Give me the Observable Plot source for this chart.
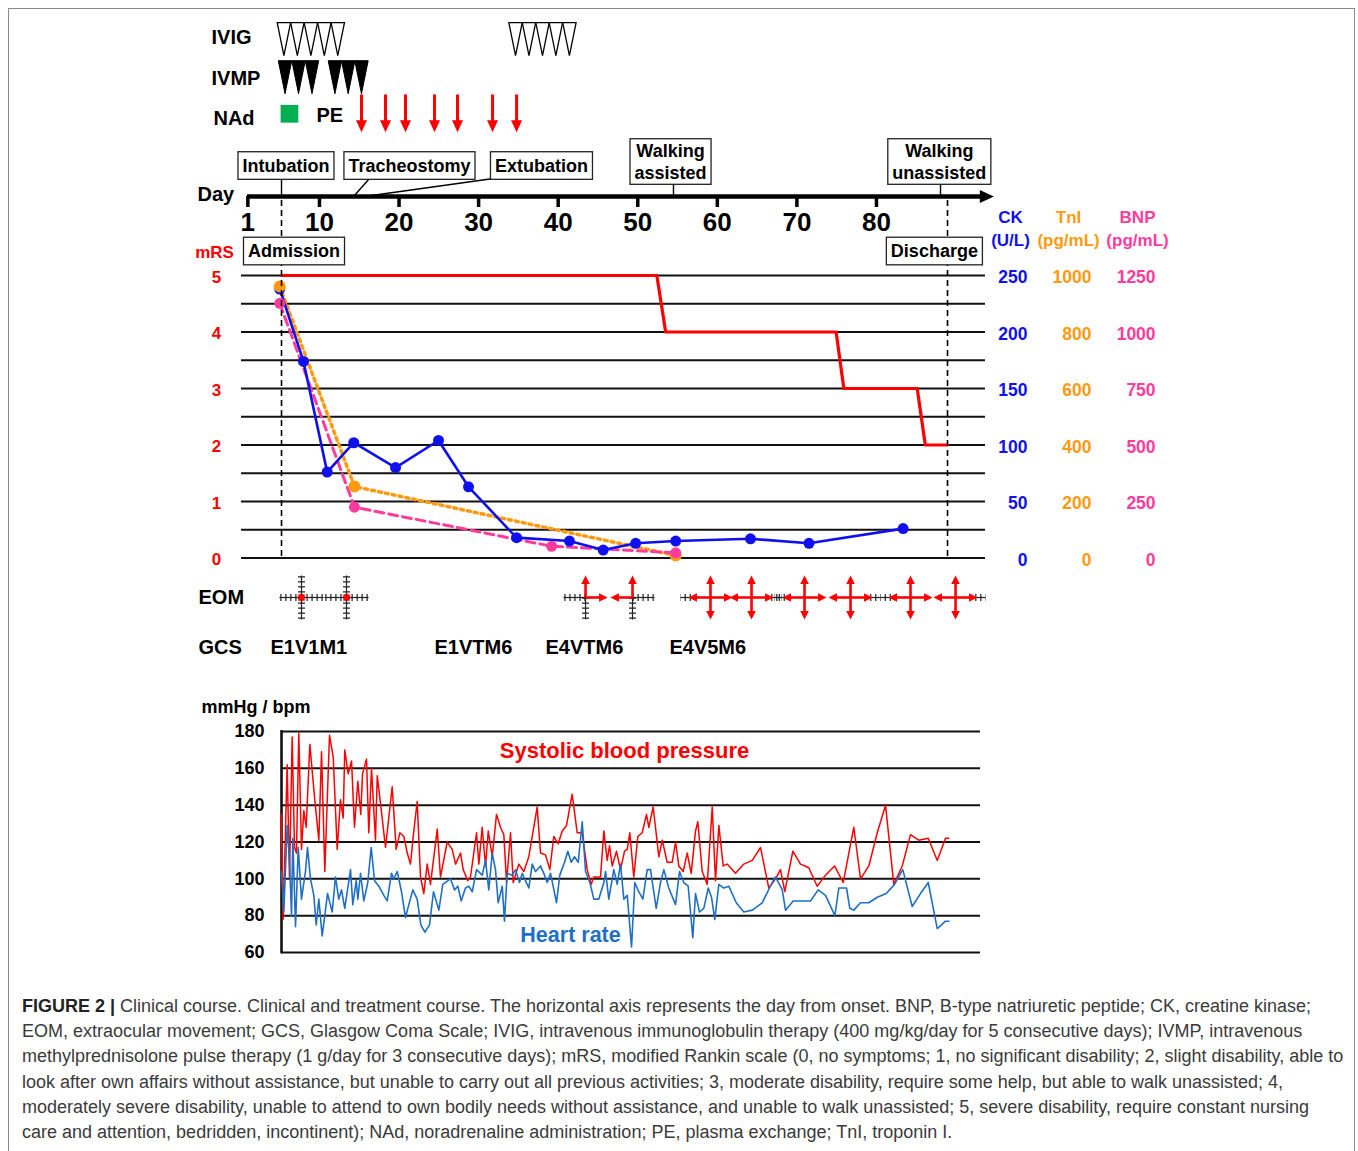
<!DOCTYPE html>
<html><head><meta charset="utf-8">
<script src="https://cdn.jsdelivr.net/npm/d3@7"></script>
<script src="https://cdn.jsdelivr.net/npm/@observablehq/plot@0.6"></script>
<style>
body{margin:0;background:#fff;}
#fig{position:relative;width:1358px;height:1151px;overflow:hidden;font-family:"Liberation Sans",Arial,sans-serif;}
#frame{position:absolute;left:8px;top:8px;width:1347px;height:1170px;border:1.5px solid #8a8a8a;box-sizing:border-box;}
#fig svg{position:absolute;left:0;top:0;}
#caption{position:absolute;left:22px;top:994px;font-size:18px;line-height:25.2px;color:#3a3a3a;white-space:nowrap;}
#caption b{color:#222;}
</style></head><body>
<div id="fig"><div id="frame"></div>
<div id="caption"><b>FIGURE 2 |</b> Clinical course. Clinical and treatment course. The horizontal axis represents the day from onset. BNP, B-type natriuretic peptide; CK, creatine kinase;<br>EOM, extraocular movement; GCS, Glasgow Coma Scale; IVIG, intravenous immunoglobulin therapy (400 mg/kg/day for 5 consecutive days); IVMP, intravenous<br>methylprednisolone pulse therapy (1 g/day for 3 consecutive days); mRS, modified Rankin scale (0, no symptoms; 1, no significant disability; 2, slight disability, able to<br>look after own affairs without assistance, but unable to carry out all previous activities; 3, moderate disability, require some help, but able to walk unassisted; 4,<br>moderately severe disability, unable to attend to own bodily needs without assistance, and unable to walk unassisted; 5, severe disability, require constant nursing<br>care and attention, bedridden, incontinent); NAd, noradrenaline administration; PE, plasma exchange; TnI, troponin I.</div>
</div>
<script>
// ---------------- DATA ----------------
const dayTicks = [1, 10, 20, 30, 40, 50, 60, 70, 80];
const ivigDays = [5.53, 7.22, 8.92, 10.61, 12.30, 34.64, 36.33, 38.03, 39.71, 41.41];
const ivmpDays = [5.67, 7.37, 9.06, 11.94, 13.61, 15.28];
const nadDays = [6.23];
const peDays = [15.28, 18.30, 20.81, 24.46, 27.35, 31.75, 34.77];
const admissionDay = 5.23;
const dischargeDay = 88.93;

const eventLabels = ["Intubation", "Tracheostomy", "Extubation", "Walking\nassisted", "Walking\nunassisted", "Admission", "Discharge"];
const eventDays = [5.23, 14.28, 15.66, 54.49, 88.05, null, null];

const mrsDays = [5.23, 52.40, 53.51, 74.93, 75.90, 85.12, 86.14, 88.93];
const mrsValues = [5, 5, 4, 4, 3, 3, 2, 2];
const ckDays = [5.01, 7.99, 10.97, 14.31, 19.56, 24.96, 28.73, 34.76, 41.42, 45.66, 49.74, 54.77, 64.17, 71.52, 83.35];
const ckValues = [238, 174, 76, 102, 80, 104, 63, 18, 15, 7, 13, 15, 17, 13, 26];
const tniDays = [5.01, 14.40, 54.77];
const tniValues = [961, 253, 9];
const bnpDays = [5.01, 14.40, 39.18, 54.77];
const bnpValues = [1127, 225, 52, 23];

const mrsTicks = [0, 1, 2, 3, 4, 5];
const ckTicks = [0, 50, 100, 150, 200, 250];
const tniTicks = [0, 200, 400, 600, 800, 1000];
const bnpTicks = [0, 250, 500, 750, 1000, 1250];

const eomDays = [7.74, 13.40, 43.44, 49.34, 59.14, 64.30, 70.96, 76.74, 84.28, 89.94];
const eomStates = ["fixed", "fixed", "upRight", "upLeft", "full", "full", "full", "full", "full", "full"];

const gcsLabels = ["E1V1M1", "E1VTM6", "E4VTM6", "E4V5M6"];
const gcsDays = [3.85, 24.46, 38.40, 53.98];

const bpTicks = [60, 80, 100, 120, 140, 160, 180];
const sbpDays = [5.19,5.44,5.94,6.23,6.57,6.86,7.11,7.40,7.74,8.03,8.33,8.79,9.41,9.92,10.26,10.67,11.26,11.73,12.23,12.64,12.98,13.18,13.61,14.03,14.40,14.82,15.19,15.41,15.91,16.20,16.54,17.04,17.26,17.67,18.30,19.14,19.64,20.10,20.60,21.03,21.44,21.78,22.28,22.70,23.11,23.54,23.95,24.80,25.21,26.05,26.68,27.10,27.73,28.06,28.64,28.98,29.74,30.03,30.45,30.87,31.21,31.71,32.25,32.75,33.17,33.51,34.01,34.35,35.05,35.68,36.31,36.74,37.36,37.78,38.41,38.95,39.45,40.00,40.51,41.05,41.76,42.39,43.02,43.65,44.15,44.48,45.32,45.74,46.16,46.45,46.79,47.33,47.83,48.34,48.68,49.00,49.50,50.01,50.56,51.10,51.39,51.94,52.65,53.08,53.70,54.33,54.75,55.16,55.71,56.22,56.72,57.26,57.55,58.10,58.73,59.36,59.77,60.19,60.74,61.24,62.29,63.33,64.39,65.43,66.47,67.31,67.94,68.48,69.49,70.45,71.50,72.55,73.60,74.73,75.82,77.15,78.00,79.04,80.10,81.14,82.18,83.24,84.28,85.32,86.51,87.64,88.68,89.10];
const sbpValues = [135,78,162,101,177,117,114,179,116,137,128,173,143,121,169,104,178,166,116,143,133,170,157,164,128,153,135,157,165,125,160,121,156,141,117,150,116,125,123,114,108,123,142,101,92,108,97,127,101,120,116,108,114,105,99,101,125,108,128,107,126,112,135,128,124,98,125,98,108,104,112,123,139,114,113,105,123,119,126,129,146,125,125,105,97,101,101,126,110,118,107,115,105,115,116,125,101,123,125,135,128,139,112,121,109,109,120,107,104,114,103,126,131,104,97,139,99,129,107,108,103,108,110,117,95,100,105,93,115,108,106,96,102,107,98,128,100,107,125,140,97,107,124,121,122,110,122,122];
const hrDays = [5.23,5.52,5.94,6.23,6.49,6.65,6.99,7.33,7.74,8.24,8.50,8.87,9.29,9.59,9.92,10.34,10.67,11.01,11.60,12.01,12.43,12.77,13.18,13.90,14.19,14.62,14.82,15.16,15.57,16.07,16.50,16.92,17.46,18.09,18.51,19.05,19.34,19.77,20.31,20.81,21.23,21.73,22.28,22.74,23.24,23.83,24.33,25.00,25.50,26.47,26.97,27.39,27.81,28.35,28.77,29.20,29.74,30.45,30.87,31.28,31.71,32.12,32.46,32.97,33.25,33.59,34.22,34.64,35.14,35.48,35.89,36.31,36.74,37.15,37.78,38.19,38.62,39.04,39.79,40.20,40.80,41.21,41.64,42.05,42.52,43.02,43.44,43.98,44.48,45.11,45.74,45.95,46.36,46.99,47.42,47.83,48.25,48.68,49.22,49.63,50.13,50.64,51.19,51.60,52.32,52.86,53.28,53.90,54.75,55.25,55.79,56.34,56.92,57.26,57.76,58.30,58.86,59.27,59.68,60.19,60.82,61.44,62.38,63.33,64.39,65.64,66.90,67.31,68.16,68.57,69.54,70.67,71.71,72.68,73.60,74.77,75.27,76.24,76.65,77.15,78.00,79.04,80.10,81.23,82.27,83.31,84.49,85.53,86.51,87.64,88.68,89.10];
const hrValues = [104,82,129,111,80,122,74,117,89,104,117,100,91,75,89,69,80,92,82,101,89,94,84,105,86,99,89,103,88,98,117,99,96,91,88,103,100,104,93,79,86,94,89,75,71,75,93,83,97,100,94,96,88,95,96,93,105,102,110,94,114,105,87,96,77,103,102,105,98,103,99,95,108,104,107,103,98,103,87,102,109,115,109,112,109,131,104,98,89,89,98,104,89,105,97,108,89,91,63,98,93,89,105,105,84,98,105,95,86,104,98,96,68,92,82,84,95,90,78,97,95,96,87,82,83,87,98,101,94,83,88,88,88,94,91,80,95,95,84,83,87,87,90,92,97,105,85,92,98,73,77,77];

// ---------------- STYLE ----------------
const RED = "#ff0000", CKB = "#1010ee", TNI = "#ff9a10", BNP = "#ff3c9e", HRB = "#1f6fc5";
const FONT = "'Liberation Sans', Arial, sans-serif";
const xScale = () => ({type: "linear", domain: [0, 100], range: [239.4, 1035.1], axis: null});
const baseStyle = {background: "transparent", overflow: "visible", fontFamily: FONT, color: "black"};
const fig = document.getElementById("fig");

// custom symbols
const tallTri = {draw(c) { c.moveTo(-6.7, -16.5); c.lineTo(6.7, -16.5); c.lineTo(0, 16.5); c.closePath(); }};
const bigHead = {draw(c) { c.moveTo(0, 0); c.lineTo(5.5, 12); c.lineTo(-5.5, 12); c.closePath(); }};
const smallHead = {draw(c) { c.moveTo(0, 0); c.lineTo(4.3, 8.5); c.lineTo(-4.3, 8.5); c.closePath(); }};
const axisHead = {draw(c) { c.moveTo(0, 0); c.lineTo(6.5, 14); c.lineTo(-6.5, 14); c.closePath(); }};

// ---------------- MAIN (mRS / CK / TnI / BNP) ----------------
const zipXY = (xs, ys) => xs.map((x, i) => ({x, y: ys[i]}));
const mrs = zipXY(mrsDays, mrsValues);
const ck = zipXY(ckDays, ckValues.map(v => v / 50));
const tni = zipXY(tniDays, tniValues.map(v => v / 200));
const bnp = zipXY(bnpDays, bnpValues.map(v => v / 250));
const gridVals = d3.range(0, 5.01, 0.5);

const mainPlot = Plot.plot({
  width: 1358, height: 580, margin: 0,
  x: xScale(), y: {type: "linear", domain: [0, 5], range: [557.5, 275], axis: null},
  style: baseStyle,
  marks: [
    Plot.ruleY(gridVals, {x1: 0.2, x2: 93.7, stroke: "#111", strokeWidth: 1.8}),
    Plot.line(mrs, {x: "x", y: "y", stroke: RED, strokeWidth: 3.2}),
    Plot.line(tni, {x: "x", y: "y", stroke: TNI, strokeWidth: 3.5, strokeDasharray: "3,4"}),
    Plot.line(bnp, {x: "x", y: "y", stroke: BNP, strokeWidth: 3, strokeDasharray: "9,5"}),
    Plot.line(ck, {x: "x", y: "y", stroke: CKB, strokeWidth: 2.6}),
    Plot.dot(ck, {x: "x", y: "y", r: 5.5, fill: CKB}),
    Plot.dot(tni, {x: "x", y: "y", r: 6, fill: TNI}),
    Plot.dot(bnp, {x: "x", y: "y", r: 5.5, fill: BNP}),
    Plot.text(mrsTicks, {x: -2.94, y: d => d, dy: 2, text: d => String(d), fill: RED, fontSize: 17, fontWeight: "bold"}),
    Plot.text(["mRS"], {x: -3.19, y: 5.41, text: d => d, fill: RED, fontSize: 17, fontWeight: "bold"}),
    Plot.text(ckTicks, {x: 98.99, y: d => d / 50, dy: 2, text: d => String(d), textAnchor: "end", fill: CKB, fontSize: 17.5, fontWeight: "bold"}),
    Plot.text(tniTicks, {x: 107.03, y: d => d / 200, dy: 2, text: d => String(d), textAnchor: "end", fill: TNI, fontSize: 17.5, fontWeight: "bold"}),
    Plot.text(bnpTicks, {x: 115.08, y: d => d / 250, dy: 2, text: d => String(d), textAnchor: "end", fill: BNP, fontSize: 17.5, fontWeight: "bold"}),
    Plot.text(["CK", "(U/L)"], {x: 96.85, y: [6.03, 5.62], text: d => d, fill: CKB, fontSize: 17, fontWeight: "bold"}),
    Plot.text(["TnI", "(pg/mL)"], {x: 104.14, y: [6.03, 5.62], text: d => d, fill: TNI, fontSize: 17, fontWeight: "bold"}),
    Plot.text(["BNP", "(pg/mL)"], {x: 112.81, y: [6.03, 5.62], text: d => d, fill: BNP, fontSize: 17, fontWeight: "bold"})
  ]
});
fig.appendChild(mainPlot);

// ---------------- LAYOUT (treatments, day axis, events, EOM, GCS) ----------------
const boxLayout = [
  {bx: 5.79, by: 164, ax: 5.23, ay: 178},
  {bx: 21.31, by: 164, ax: 16.29, ay: 178},
  {bx: 37.90, by: 164, ax: 31.87, ay: 178},
  {bx: 54.12, by: 160, ax: 54.49, ay: 183},
  {bx: 87.90, by: 160, ax: 88.05, ay: 183},
  {bx: 6.80, by: 249.5},
  {bx: 87.28, by: 249.5}
];
const events = eventLabels.map((label, i) => ({label, day: eventDays[i], ...boxLayout[i]}));
const links = events.filter(d => d.day != null);

// EOM geometry derived from states
const armDx = 2.77, armDy = 22, eomY = 597;
const ticked = [], arrows = [];
const rot = {up: 0, right: 90, down: 180, left: 270};
eomDays.forEach((d, i) => {
  const s = eomStates[i];
  const isArrow = {up: s !== "fixed", down: s === "full", left: s === "upLeft" || s === "full", right: s === "upRight" || s === "full"};
  for (const dir of ["up", "down", "left", "right"]) {
    const ex = dir === "left" ? -1 : dir === "right" ? 1 : 0;
    const ey = dir === "up" ? -1 : dir === "down" ? 1 : 0;
    const seg = {dir, x1: d, y1: eomY, x2: d + ex * armDx, y2: eomY + ey * armDy,
      sx2: d + ex * (armDx - 0.6), sy2: eomY + ey * (armDy - 5)};
    (isArrow[dir] ? arrows : ticked).push(seg);
  }
  if (s === "full") {
    const side = (i % 2 === 0) ? -1 : 1;
    ticked.push({x1: d + side * (armDx - 0.3), y1: eomY, x2: d + side * (armDx + 1.0), y2: eomY});
  }
});
const fixedEyes = eomDays.filter((d, i) => eomStates[i] === "fixed");

const layoutPlot = Plot.plot({
  width: 1358, height: 680, margin: 0,
  x: xScale(), y: {type: "linear", domain: [0, 680], range: [0, 680], axis: null},
  style: baseStyle,
  marks: [
    // treatment rows
    Plot.text(["IVIG", "IVMP", "NAd"], {x: [-3.57, -3.57, -3.32], y: [37, 78, 118], text: d => d, textAnchor: "start", fontSize: 20, fontWeight: "bold"}),
    Plot.text(["PE"], {x: 9.63, y: 115.5, text: d => d, textAnchor: "start", fontSize: 20, fontWeight: "bold"}),
    Plot.dot(ivigDays, {x: d => d, y: 38.7, symbol: tallTri, fill: "white", stroke: "black", strokeWidth: 1.3}),
    Plot.dot(ivmpDays, {x: d => d, y: 76.7, symbol: tallTri, fill: "black", stroke: "black", strokeWidth: 1}),
    Plot.dot(nadDays, {x: d => d, y: 113.3, symbol: "square", r: 10, fill: "#00b050"}),
    Plot.ruleX(peDays, {x: d => d, y1: 94.5, y2: 122, stroke: RED, strokeWidth: 3}),
    Plot.dot(peDays, {x: d => d, y: 131.7, symbol: bigHead, rotate: 180, fill: RED, stroke: "none"}),
    // dashed admission / discharge lines
    Plot.ruleX([admissionDay, dischargeDay], {x: d => d, y1: 200, y2: 557, stroke: "black", strokeWidth: 1.6, strokeDasharray: "6,4"}),
    // day axis
    Plot.ruleY([196], {y: d => d, x1: 0.95, x2: 93.3, stroke: "black", strokeWidth: 4.5}),
    Plot.dot([94.75], {x: d => d, y: 196, symbol: axisHead, rotate: 90, fill: "black", stroke: "none"}),
    Plot.ruleX(dayTicks, {x: d => d, y1: 196, y2: 207, stroke: "black", strokeWidth: 3.5}),
    Plot.text(dayTicks, {x: d => d, y: 222, text: d => String(d), fontSize: 26, fontWeight: "bold"}),
    Plot.text(["Day"], {x: -5.33, y: 194, text: d => d, textAnchor: "start", fontSize: 20, fontWeight: "bold"}),
    // event connectors and boxes
    Plot.link(links, {x1: "ax", y1: "ay", x2: "day", y2: 196, stroke: "black", strokeWidth: 1.4}),
    Plot.text(events, {x: "bx", y: "by", text: "label", fontSize: 18, fontWeight: "bold", lineHeight: 1.22}),
    // EOM
    Plot.text(["EOM", "GCS"], {x: -5.2, y: [597, 647], text: d => d, textAnchor: "start", fontSize: 20, fontWeight: "bold"}),
    Plot.link(ticked, {x1: "x1", y1: "y1", x2: "x2", y2: "y2", stroke: "#222", strokeWidth: 1.2}),
    Plot.link(ticked, {x1: "x1", y1: "y1", x2: "x2", y2: "y2", stroke: "#222", strokeWidth: 7, strokeDasharray: "1.2,3.8"}),
    Plot.link(arrows, {x1: "x1", y1: "y1", x2: "sx2", y2: "sy2", stroke: RED, strokeWidth: 2.6}),
    Plot.dot(arrows, {x: "x2", y: "y2", symbol: smallHead, rotate: d => rot[d.dir], fill: RED, stroke: "none"}),
    Plot.dot(fixedEyes, {x: d => d, y: eomY, symbol: "square", r: 3.6, fill: RED}),
    // GCS
    Plot.text(gcsLabels, {x: gcsDays, y: 647, text: d => d, textAnchor: "start", fontSize: 20, fontWeight: "bold"})
  ]
});
fig.appendChild(layoutPlot);
// draw boxes around event labels
const boxTexts = new Set(eventLabels.map(s => s.replace("\n", "")));
layoutPlot.querySelectorAll("text").forEach(t => {
  if (!boxTexts.has(t.textContent)) return;
  const b = t.getBBox();
  const multi = t.querySelectorAll("tspan").length > 1;
  const py = multi ? 1.8 : 3.8;
  const r = document.createElementNS("http://www.w3.org/2000/svg", "rect");
  r.setAttribute("x", b.x - 4.5); r.setAttribute("y", b.y - py);
  r.setAttribute("width", b.width + 9); r.setAttribute("height", b.height + 2 * py);
  r.setAttribute("fill", "white"); r.setAttribute("stroke", "#222"); r.setAttribute("stroke-width", 1.3);
  if (t.getAttribute("transform")) r.setAttribute("transform", t.getAttribute("transform"));
  t.parentNode.insertBefore(r, t);
});

// ---------------- BOTTOM (SBP / HR) ----------------
const sbp = zipXY(sbpDays, sbpValues);
const hr = zipXY(hrDays, hrValues);
const bpPlot = Plot.plot({
  width: 1358, height: 975, margin: 0,
  x: xScale(), y: {type: "linear", domain: [60, 180], range: [952, 731], axis: null},
  style: baseStyle,
  marks: [
    Plot.ruleY(bpTicks, {y: d => d, x1: 5.23, x2: 93.08, stroke: "#111", strokeWidth: 2}),
    Plot.ruleX([5.23], {x: d => d, y1: 59.3, y2: 180.5, stroke: "#111", strokeWidth: 2.6}),
    Plot.text(bpTicks, {x: 3.09, y: d => d, text: d => String(d), textAnchor: "end", fontSize: 18, fontWeight: "bold"}),
    Plot.text(["mmHg / bpm"], {x: -4.83, y: 193, text: d => d, textAnchor: "start", fontSize: 18, fontWeight: "bold"}),
    Plot.line(sbp, {x: "x", y: "y", stroke: RED, strokeWidth: 1.5}),
    Plot.line(hr, {x: "x", y: "y", stroke: HRB, strokeWidth: 1.6}),
    Plot.text(["Systolic blood pressure"], {x: 48.34, y: 169.7, text: d => d, fill: RED, fontSize: 22, fontWeight: "bold"}),
    Plot.text(["Heart rate"], {x: 41.55, y: 69.2, text: d => d, fill: HRB, fontSize: 21.5, fontWeight: "bold"})
  ]
});
fig.appendChild(bpPlot);
</script>
</body></html>
